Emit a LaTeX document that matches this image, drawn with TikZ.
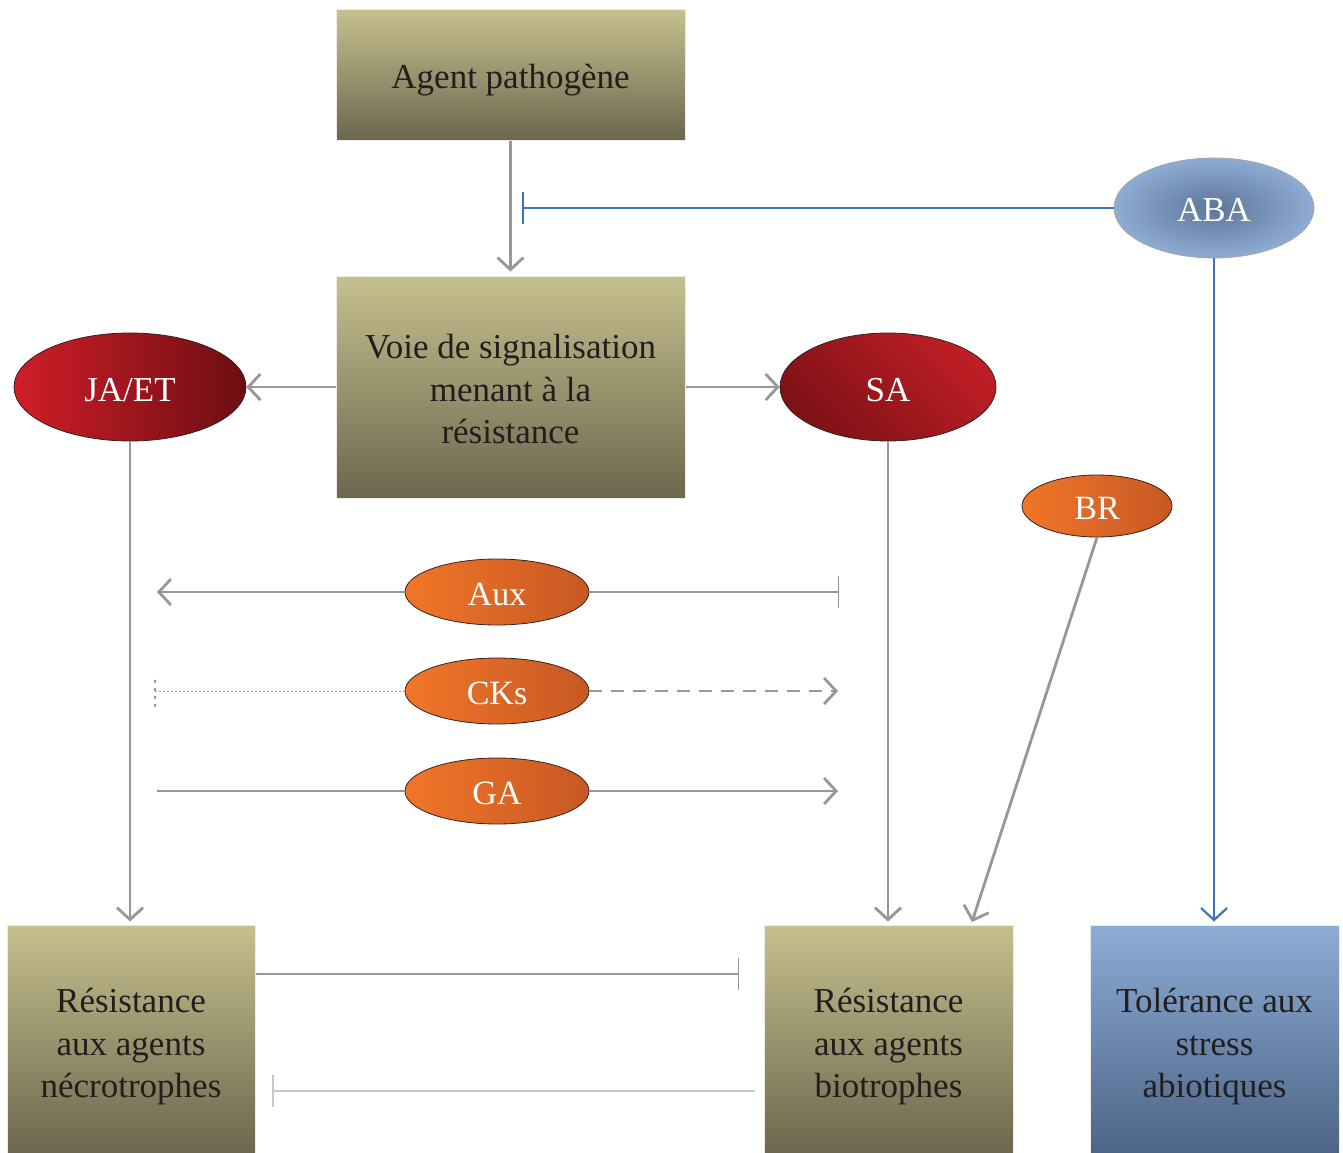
\documentclass[tikz,border=0pt]{standalone}
\usepackage{fontspec}
\setmainfont{Liberation Serif}
\usetikzlibrary{arrows.meta,shapes.geometric}

\definecolor{khakiTop}{RGB}{198,191,142}
\definecolor{khakiBot}{RGB}{108,103,78}
\definecolor{blueTop}{RGB}{141,172,212}
\definecolor{blueBot}{RGB}{76,100,135}
\definecolor{abaIn}{RGB}{92,118,152}
\definecolor{abaOut}{RGB}{142,171,210}
\definecolor{redL}{RGB}{208,30,40}
\definecolor{redD}{RGB}{108,14,18}
\definecolor{saL}{RGB}{192,30,38}
\definecolor{saD}{RGB}{125,18,22}
\definecolor{orL}{RGB}{240,118,40}
\definecolor{orD}{RGB}{200,88,36}
\definecolor{link}{RGB}{150,150,155}
\definecolor{linklight}{RGB}{200,200,202}
\definecolor{abalink}{RGB}{62,115,185}
\definecolor{ink}{RGB}{35,30,30}

% centred lines of text, drawn lower by the given amount while keeping their box
\newcommand{\dropText}[2]{\raisebox{-#1}[\height][\depth]{\begin{tabular}{@{}c@{}}#2\end{tabular}}}

\tikzset{
  box/.style={rectangle, inner sep=0pt, align=center, text=ink,
    font=\fontsize{35}{42.5}\selectfont, draw=white!85!gray, line width=1pt},
  khaki/.style={box, top color=khakiTop, bottom color=khakiBot},
  bluebox/.style={box, top color=blueTop, bottom color=blueBot},
  hormone/.style={ellipse, inner sep=0pt, draw={rgb,255:red,50;green,35;blue,35},
    line width=0.8pt, text=white, font=\fontsize{35}{40}\selectfont},
  small/.style={hormone, font=\fontsize{34}{40}\selectfont,
    left color=orL, right color=orD},
  open/.style={-{Straight Barb[length=12pt,width=26pt]}},
  thick link/.style={draw=link, line width=2.8pt},
  thin link/.style={draw=link, line width=1.3pt},
  block/.style={-{Bar[width=32pt]}},
}

\begin{document}
\begin{tikzpicture}[x=1pt,y=-1pt]
\useasboundingbox (0,0) rectangle (1343,1153);

% boxes
\node[khaki, minimum width=349pt, minimum height=130pt] (agent) at (510.5,75)
  {\dropText{5pt}{Agent pathogène}};
\node[khaki, minimum width=349pt, minimum height=222pt] (voie) at (510.5,387)
  {\dropText{5.5pt}{Voie de signalisation\\menant à la\\résistance}};
\node[khaki, minimum width=248pt, minimum height=228pt] (necro) at (131,1039)
  {\dropText{7.5pt}{Résistance\\aux agents\\nécrotrophes}};
\node[khaki, minimum width=249pt, minimum height=228pt] (bio) at (888.5,1039)
  {\dropText{7.5pt}{Résistance\\aux agents\\biotrophes}};
\node[bluebox, minimum width=249pt, minimum height=228pt] (tol) at (1214.5,1039)
  {\dropText{7.5pt}{Tolérance aux\\stress\\abiotiques}};

% hormones
\node[hormone, minimum width=200pt, minimum height=100pt, inner color=abaIn, outer color=abaOut,
  draw=gray!70] (aba) at (1214,208) {\dropText{5pt}{ABA}};
\node[hormone, minimum width=232pt, minimum height=108pt, left color=redL, right color=redD]
  (jaet) at (130,387) {\dropText{6pt}{JA/ET}};
\node[hormone, minimum width=216pt, minimum height=108pt, left color=saD, right color=saL,
  shading angle=135] (sa) at (888,387) {\dropText{6pt}{SA}};
\node[small, minimum width=150pt, minimum height=62pt] (br) at (1097,506) {\dropText{5pt}{BR}};
\node[small, minimum width=184pt, minimum height=66pt] (aux) at (497,592) {\dropText{5pt}{Aux}};
\node[small, minimum width=184pt, minimum height=66pt] (cks) at (497,691) {\dropText{5pt}{CKs}};
\node[small, minimum width=184pt, minimum height=66pt] (ga) at (497,791) {\dropText{5pt}{GA}};

% free ends
\coordinate (abaStop) at (522,208);
\coordinate (auxL) at (157,592);
\coordinate (auxR) at (839,592);
\coordinate (cksL) at (155,691);
\coordinate (cksR) at (838,691);
\coordinate (gaL) at (157,791);
\coordinate (gaR) at (838,791);
\coordinate (brEnd) at (972,922);
\coordinate (necroStop) at (739,974);
\coordinate (bioStop) at (272,1091);
\coordinate (bioStart) at (755,1091);

% signalling cascade
\draw[thick link, open, shorten >=4pt] (agent) -- (voie);
\draw[thick link, open] (voie.west) -- (jaet.east);
\draw[thick link, open] (voie.east) -- (sa.west);
\draw[thick link, open, shorten >=3pt] (jaet.south) -- (jaet.south |- necro.north);
\draw[thick link, open, shorten >=3pt] (sa.south) -- (sa.south |- bio.north);
\draw[thick link, open] (br.south) -- (brEnd);

% ABA branch
\draw[draw=abalink, line width=2pt, block] (aba.west) -- (abaStop);
\draw[draw=abalink, line width=2.2pt, open, shorten >=3pt] (aba.south) -- (aba.south |- tol.north);

% auxin, cytokinins, gibberellins
\draw[thick link, open] (aux.west) -- (auxL);
\draw[thin link, block] (aux.east) -- (auxR);
\draw[draw=link, line width=1pt, dash pattern=on 2pt off 2pt] (cks.west) -- (cksL);
\draw[draw=link, line width=2pt, dash pattern=on 3pt off 5pt] ([yshift=-16pt]cksL) -- ([yshift=16pt]cksL);
\draw[thick link, open, dash pattern=on 13pt off 9pt] (cks.east) -- (cksR);
\draw[thin link] (gaL) -- (ga.west);
\draw[thick link, open] (ga.east) -- (gaR);

% mutual antagonism between the two resistances
\draw[thin link, block] (necro.east |- necroStop) -- (necroStop);
\draw[draw=linklight, line width=2pt, -{Bar[width=32pt]}] (bioStart) -- (bioStop);
\end{tikzpicture}
\end{document}
